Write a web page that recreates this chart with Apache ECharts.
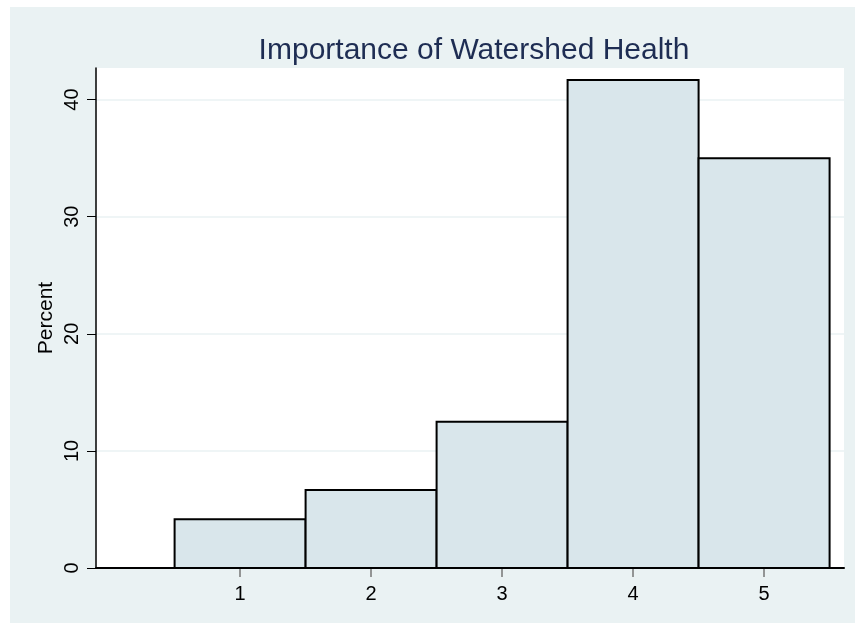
<!DOCTYPE html>
<html>
<head>
<meta charset="utf-8">
<script src="https://cdn.jsdelivr.net/npm/echarts@6/dist/echarts.min.js"></script>
<style>
  html, body { margin: 0; padding: 0; background: #fff; }
  #chart { width: 855px; height: 623px; }
</style>
</head>
<body>
<div id="chart"></div>
<script>
// histogram bins (centres) and their percent heights
const bins = [1, 2, 3, 4, 5];
const percents = [4.17, 6.67, 12.5, 41.67, 35.0];
const yTicks = [0, 10, 20, 30, 40];
const binWidth = 1;

const chart = echarts.init(document.getElementById("chart"));

const FONT = "Liberation Sans, Arial, sans-serif";
const BG = "#EAF2F3";

chart.setOption({
  animation: false,
  textStyle: { fontFamily: FONT },
  graphic: [
    {
      type: "rect",
      shape: { x: 10, y: 7, width: 845, height: 616 },
      style: { fill: BG },
      z: -10,
    },
  ],
  title: {
    text: "Importance of Watershed Health",
    left: 469,
    textAlign: "center",
    top: 31,
    textStyle: { color: "#1E2D53", fontSize: 30, fontWeight: "normal", fontFamily: FONT },
  },
  grid: {
    left: 96,
    right: 11,
    top: 68,
    bottom: 55,
    show: true,
    backgroundColor: "#fff",
    borderWidth: 0,
  },
  xAxis: {
    type: "value",
    min: -0.1,
    max: 5.61,
    axisLine: { show: true, onZero: false, lineStyle: { color: "#000", width: 2 } },
    axisTick: { show: true, customValues: bins, length: 9, lineStyle: { color: "#777", width: 1.5 } },
    axisLabel: { customValues: bins, color: "#000", fontSize: 20, margin: 16 },
    splitLine: { show: false },
  },
  yAxis: {
    type: "value",
    min: 0,
    max: 42.7,
    interval: 10,
    name: "Percent",
    nameLocation: "middle",
    nameGap: 39,
    nameMoveOverlap: false,
    nameTextStyle: { color: "#000", fontSize: 21 },
    axisLine: { show: true, onZero: false, lineStyle: { color: "#000", width: 1.5 } },
    axisTick: { show: true, customValues: yTicks, length: 9, lineStyle: { color: "#000" } },
    axisLabel: { customValues: yTicks, color: "#000", fontSize: 20, rotate: 90, margin: 14 },
    splitLine: { show: true, lineStyle: { color: BG, width: 1.5 } },
  },
  series: [
    {
      type: "custom",
      data: bins.map((b, i) => [b, percents[i]]),
      renderItem: (params, api) => {
        const x = api.value(0);
        const v = api.value(1);
        const p0 = api.coord([x - binWidth / 2, v]);
        const p1 = api.coord([x + binWidth / 2, 0]);
        return {
          type: "rect",
          shape: { x: p0[0], y: p0[1], width: p1[0] - p0[0], height: p1[1] - p0[1] },
          style: { fill: "#D9E6EB", stroke: "#000", lineWidth: 2 },
        };
      },
    },
  ],
});
</script>
</body>
</html>
